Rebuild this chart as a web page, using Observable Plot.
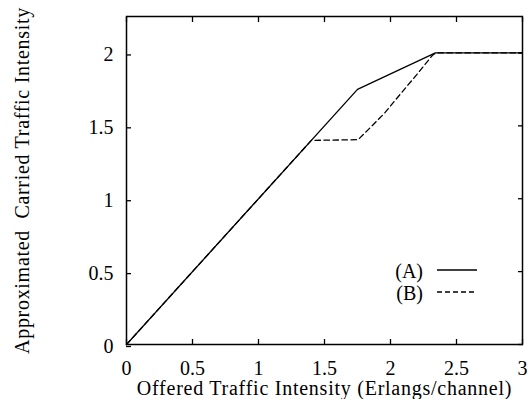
<!DOCTYPE html>
<html><head><meta charset="utf-8">
<script src="https://cdn.jsdelivr.net/npm/d3@7"></script>
<script src="https://cdn.jsdelivr.net/npm/@observablehq/plot@0.6"></script>
<style>
body{margin:0;background:#fff} svg{display:block}
#chart svg text{font-family:'Liberation Serif','Times New Roman',serif !important;}
</style>
</head><body><div id="chart"></div>
<script>
const xTicks = [0, 0.5, 1, 1.5, 2, 2.5, 3];
const yTicks = [0, 0.5, 1, 1.5, 2];
const seriesNames = ["(A)", "(B)"];
const seriesAx = [0, 1.75, 2.34, 3];
const seriesAy = [0, 1.75, 2, 2];
const seriesBx = [0, 1.4, 1.755, 1.826, 1.952, 2.078, 2.205, 2.318, 2.345, 3];
const seriesBy = [0, 1.4, 1.405, 1.469, 1.584, 1.721, 1.858, 1.984, 2, 2];
const xLabel = "Offered Traffic Intensity (Erlangs/channel)";
const yLabel = "Approximated\u00a0 Carried Traffic Intensity";

const dataA = seriesAx.map((x, i) => ({x, y: seriesAy[i]}));
const dataB = seriesBx.map((x, i) => ({x, y: seriesBy[i]}));
const FONT = "'Liberation Serif', 'Times New Roman', serif";

const plot = Plot.plot({
  width: 528, height: 399,
  marginLeft: 126, marginRight: 6, marginTop: 16, marginBottom: 55,
  style: {fontFamily: FONT, fontSize: "20px", color: "black", background: "white"},
  x: {domain: [0, 3]},
  y: {domain: [0, 2.25]},
  marks: [
    Plot.axisX({anchor: "bottom", ticks: xTicks, tickSize: -5, tickPadding: 21, tickFormat: d => String(d), label: null, strokeWidth: 1.3, fontSize: 20, fill: "black"}),
    Plot.axisX({anchor: "top", ticks: xTicks, tickSize: -5, tickFormat: () => "", label: null, strokeWidth: 1.3}),
    Plot.axisY({anchor: "left", ticks: yTicks, tickSize: -5, tickPadding: 18, dy: 2, tickFormat: d => String(d), label: null, strokeWidth: 1.3, fontSize: 20, fill: "black"}),
    Plot.axisY({anchor: "right", ticks: yTicks, tickSize: -5, tickFormat: () => "", label: null, strokeWidth: 1.3}),
    Plot.frame({stroke: "black", strokeWidth: 1.5}),
    Plot.line(dataB, {x: "x", y: "y", stroke: "black", strokeWidth: 1.3, strokeDasharray: "5.5,3.5"}),
    Plot.line(dataA, {x: "x", y: "y", stroke: "black", strokeWidth: 1.3}),
    Plot.text([xLabel], {frameAnchor: "bottom", lineAnchor: "middle", textAnchor: "middle", dy: 44, fontSize: 20, fill: "black"}),
    Plot.text([yLabel], {frameAnchor: "left", lineAnchor: "middle", textAnchor: "middle", rotate: -90, dx: -104, fontSize: 20, fill: "black"})
  ]
});

const svg = d3.select(plot);
svg.selectAll("text").each(function() {
  const t = this.textContent;
  if (t === xLabel) this.setAttribute("letter-spacing", "0.75");
  if (t === yLabel) this.setAttribute("letter-spacing", "0.7");
});

// legend
const xr = plot.scale("x").range, yr = plot.scale("y").range;
const right = xr[1], bottom = yr[0];
const leg = svg.append("g").attr("font-size", 20);
const rows = [{name: seriesNames[0], dash: null, y: 270}, {name: seriesNames[1], dash: "5,3", y: 292}];
rows.forEach(r => {
  const dy = r.y - bottom;
  leg.append("text").attr("x", right - 99).attr("y", bottom + dy + 1.5).attr("dy", "0.32em")
    .attr("text-anchor", "end").attr("fill", "black").text(r.name);
  leg.append("line").attr("x1", right - 85).attr("x2", right - 45)
    .attr("y1", bottom + dy).attr("y2", bottom + dy)
    .attr("stroke", "black").attr("stroke-width", 1.3)
    .attr("stroke-dasharray", r.dash);
});
document.getElementById("chart").appendChild(plot);
</script>
</body></html>
